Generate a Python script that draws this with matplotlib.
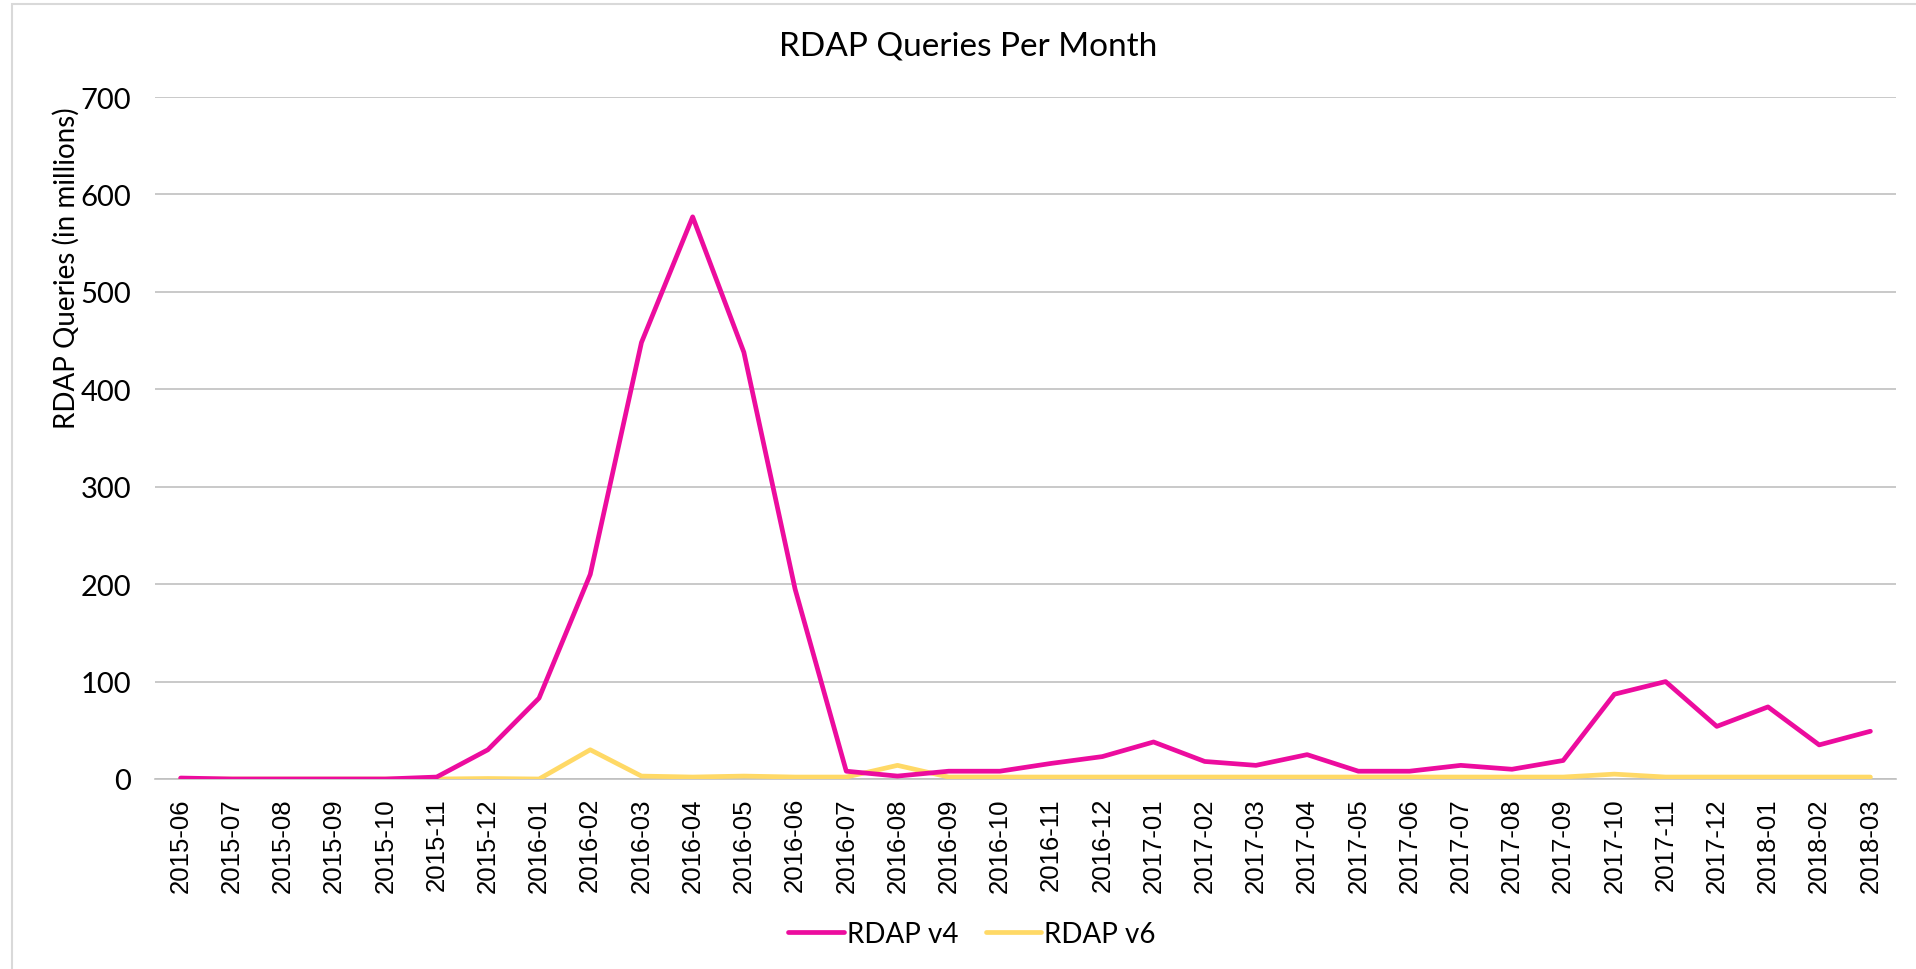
import numpy as np
import matplotlib.pyplot as plt
from matplotlib.patches import Rectangle

# months on the category axis
months = ['2015-06', '2015-07', '2015-08', '2015-09', '2015-10', '2015-11', '2015-12',
          '2016-01', '2016-02', '2016-03', '2016-04', '2016-05', '2016-06', '2016-07',
          '2016-08', '2016-09', '2016-10', '2016-11', '2016-12',
          '2017-01', '2017-02', '2017-03', '2017-04', '2017-05', '2017-06', '2017-07',
          '2017-08', '2017-09', '2017-10', '2017-11', '2017-12',
          '2018-01', '2018-02', '2018-03']

# queries in millions
rdap_v4 = [1, 0, 0, 0, 0, 2, 30,
           83, 210, 448, 577, 438, 195, 8,
           3, 8, 8, 16, 23,
           38, 18, 14, 25, 8, 8, 14,
           10, 19, 87, 100, 54,
           74, 35, 49]
rdap_v6 = [0, 0, 0, 0, 0, 0, 0.5,
           0, 30, 3, 2, 3, 2, 2,
           14, 2, 2, 2, 2,
           2, 2, 2, 2, 2, 2, 2,
           2, 2, 5, 2, 2,
           2, 2, 2]

geo = 'Lato'
x = np.arange(len(months))

fig = plt.figure(figsize=(19.16, 9.70), dpi=100)
ax = fig.add_axes([155/1916, 1 - 780/970, (1896 - 155)/1916, (780 - 98)/970])

ax.plot(x, rdap_v6, color='#FFD966', lw=3.4, solid_capstyle='round', zorder=3, label='RDAP v6')
ax.plot(x, rdap_v4, color='#EC0C9E', lw=3.4, solid_capstyle='round', zorder=4, label='RDAP v4')

ax.set_xlim(-0.5, len(months) - 0.5)
ax.set_ylim(0, 700)
ax.set_yticks(range(0, 701, 100))
ax.set_xticks(x)
ax.set_xticklabels(months, rotation=90, fontsize=18.5, family='Liberation Sans')
for lab in ax.get_yticklabels():
    lab.set_family(geo)
    lab.set_fontsize(21)
ax.tick_params(axis='both', length=0)
ax.tick_params(axis='y', pad=17)
ax.tick_params(axis='x', pad=13)

ax.grid(axis='y', color='#C0C0C0', lw=1.2)
ax.set_axisbelow(True)
for s in ['top', 'right', 'left']:
    ax.spines[s].set_visible(False)
ax.spines['bottom'].set_color('#C0C0C0')
ax.spines['bottom'].set_linewidth(1.2)

fig.text(968/1916, 1 - 46/970, 'RDAP Queries Per Month', ha='center', va='center',
         fontsize=24, family=geo)
fig.text(66/1916, 1 - 268/970, 'RDAP Queries (in millions)', rotation=90,
         ha='center', va='center', fontsize=20, family=geo)

h, l = ax.get_legend_handles_labels()
fig.legend(h[::-1], l[::-1], loc='center', bbox_to_anchor=(972/1916, 1 - 935/970), ncol=2,
           frameon=False, handlelength=2.0, handletextpad=0.1, columnspacing=1.0,
           prop={'family': geo, 'size': 20})

# outer chart-area border
fig.patches.append(Rectangle((12/1916, -0.05), 1.1, 1 - 5/970 + 0.05,
                             transform=fig.transFigure, fill=False,
                             edgecolor='#D9D9D9', lw=1.5))

fig.savefig('out.png', dpi=100)
